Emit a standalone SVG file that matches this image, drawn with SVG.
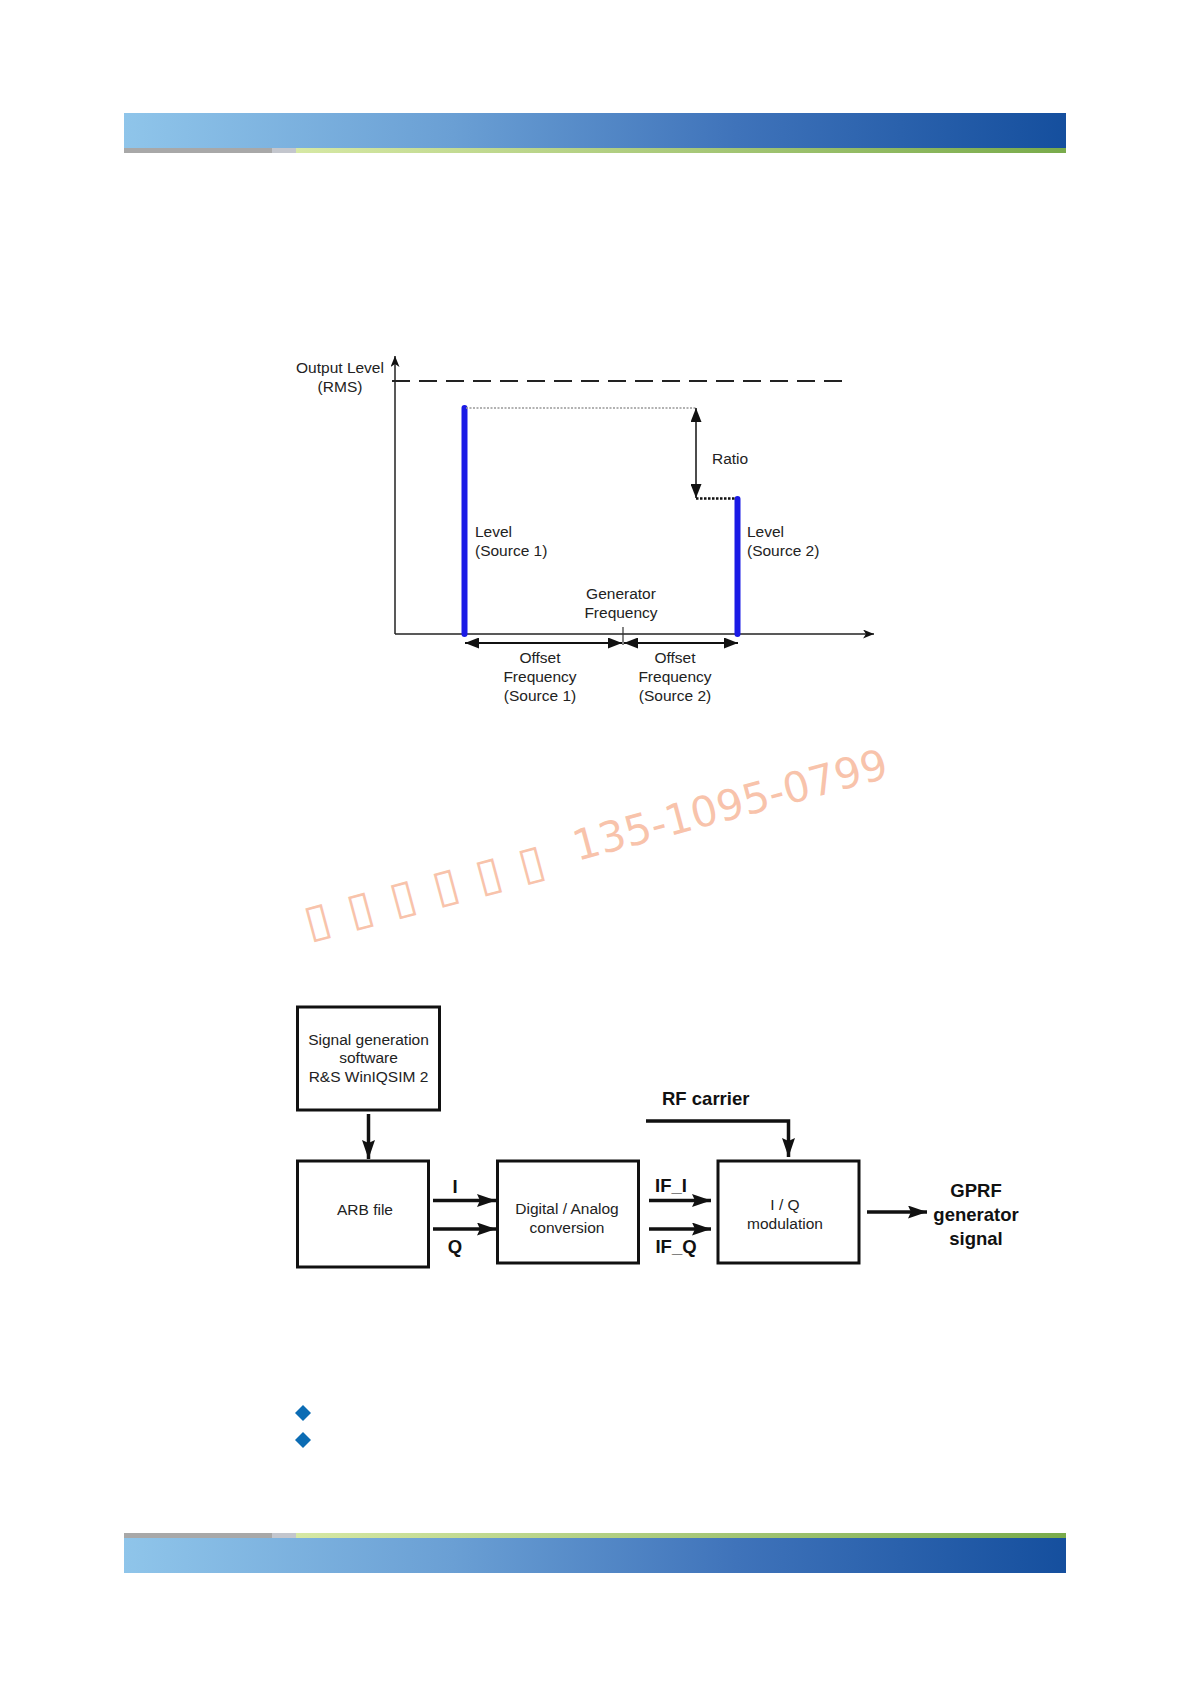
<svg xmlns="http://www.w3.org/2000/svg" width="1190" height="1684" viewBox="0 0 1190 1684">
<defs>
  <linearGradient id="blueGrad" x1="0" y1="0" x2="1" y2="0">
    <stop offset="0" stop-color="#8fc5ea"/>
    <stop offset="0.35" stop-color="#6a9fd4"/>
    <stop offset="0.65" stop-color="#3f73ba"/>
    <stop offset="1" stop-color="#154f9e"/>
  </linearGradient>
  <linearGradient id="greenGrad" x1="0" y1="0" x2="1" y2="0">
    <stop offset="0" stop-color="#d6e8a4"/>
    <stop offset="0.5" stop-color="#a9c97a"/>
    <stop offset="1" stop-color="#79ab4b"/>
  </linearGradient>
  <marker id="axisHead" markerUnits="userSpaceOnUse" markerWidth="12" markerHeight="9" refX="11" refY="4.5" orient="auto">
    <path d="M0,0 L11,4.5 L0,9 L3,4.5 z" fill="#111"/>
  </marker>
  <marker id="dimHead" markerUnits="userSpaceOnUse" markerWidth="15" markerHeight="11" refX="14" refY="5.5" orient="auto-start-reverse">
    <path d="M0,0 L14,5.5 L0,11 z" fill="#111"/>
  </marker>
  <marker id="blkHead" markerUnits="userSpaceOnUse" markerWidth="20" markerHeight="13" refX="19" refY="6.5" orient="auto">
    <path d="M0,0 L19,6.5 L0,13 L3,6.5 z" fill="#111"/>
  </marker>
  <style>
    .lbl { font-family: "Liberation Sans", Arial, sans-serif; font-size: 15.5px; fill: #222; }
    .mid { text-anchor: middle; }
    .bold { font-family: "Liberation Sans", Arial, sans-serif; font-size: 18.5px; font-weight: bold; fill: #111; }
    .box { fill: #fff; stroke: #111; stroke-width: 3; }
    .axis { stroke: #222; stroke-width: 1.5; fill: none; }
    .blue { stroke: #1a1ae6; stroke-width: 6; stroke-linecap: round; }
    .conn { stroke: #111; stroke-width: 3.5; fill: none; }
    .wm { font-family: "DejaVu Sans", sans-serif; fill: #f7b99c; fill-opacity: 0.85; }
  </style>
</defs>
<rect width="1190" height="1684" fill="#fff"/>

<!-- header band -->
<g id="header">
  <rect x="124" y="113" width="942" height="35" fill="url(#blueGrad)"/>
  <rect x="124" y="148" width="148" height="5" fill="#a8a8a8"/>
  <rect x="272" y="148" width="24" height="5" fill="#c3c6cd"/>
  <rect x="296" y="148" width="770" height="5" fill="url(#greenGrad)"/>
</g>

<!-- footer band -->
<g id="footer">
  <rect x="124" y="1533" width="148" height="5" fill="#a8a8a8"/>
  <rect x="272" y="1533" width="24" height="5" fill="#c3c6cd"/>
  <rect x="296" y="1533" width="770" height="5" fill="url(#greenGrad)"/>
  <rect x="124" y="1538" width="942" height="35" fill="url(#blueGrad)"/>
</g>

<!-- spectrum chart -->
<g id="chart">
  <g id="axes">
    <line class="axis" x1="395" y1="634" x2="395" y2="356" marker-end="url(#axisHead)"/>
    <line class="axis" x1="395" y1="634" x2="874" y2="634" marker-end="url(#axisHead)"/>
    <line x1="392" y1="381" x2="843" y2="381" stroke="#222" stroke-width="2" stroke-dasharray="18,9"/>
  </g>
  <g id="source1">
    <line class="blue" x1="464.5" y1="408" x2="464.5" y2="634"/>
    <line x1="466" y1="408" x2="697" y2="408" stroke="#999" stroke-width="1.5" stroke-dasharray="2,1.5"/>
  </g>
  <g id="source2">
    <line class="blue" x1="737.5" y1="499" x2="737.5" y2="634"/>
    <line x1="696" y1="498.5" x2="736" y2="498.5" stroke="#111" stroke-width="2.5" stroke-dasharray="2.5,1.5"/>
  </g>
  <g id="ratio">
    <line x1="696" y1="408" x2="696" y2="498" stroke="#111" stroke-width="1.5" marker-start="url(#dimHead)" marker-end="url(#dimHead)"/>
    <text class="lbl" x="712" y="464">Ratio</text>
  </g>
  <g id="offsets">
    <line x1="623" y1="627" x2="623" y2="645" stroke="#333" stroke-width="1.2"/>
    <line x1="465" y1="643" x2="622" y2="643" stroke="#111" stroke-width="2" marker-start="url(#dimHead)" marker-end="url(#dimHead)"/>
    <line x1="624" y1="643" x2="738" y2="643" stroke="#111" stroke-width="2" marker-start="url(#dimHead)" marker-end="url(#dimHead)"/>
  </g>
  <g id="chart-labels">
    <text class="lbl mid" x="340" y="373">Output Level</text>
    <text class="lbl mid" x="340" y="392">(RMS)</text>
    <text class="lbl" x="475" y="537">Level</text>
    <text class="lbl" x="475" y="556">(Source 1)</text>
    <text class="lbl" x="747" y="537">Level</text>
    <text class="lbl" x="747" y="556">(Source 2)</text>
    <text class="lbl mid" x="621" y="599">Generator</text>
    <text class="lbl mid" x="621" y="618">Frequency</text>
    <text class="lbl mid" x="540" y="663">Offset</text>
    <text class="lbl mid" x="540" y="682">Frequency</text>
    <text class="lbl mid" x="540" y="701">(Source 1)</text>
    <text class="lbl mid" x="675" y="663">Offset</text>
    <text class="lbl mid" x="675" y="682">Frequency</text>
    <text class="lbl mid" x="675" y="701">(Source 2)</text>
  </g>
</g>

<!-- watermark -->
<g id="watermark" transform="translate(309,938) rotate(-15)">
  <text class="wm" font-size="46" x="0 44.3 88.6 132.9 177.2 221.5" y="0">▯▯▯▯▯▯</text>
  <text class="wm" font-size="42" x="279" y="-5">135-1095-0799</text>
</g>

<!-- block diagram -->
<g id="node-software">
  <rect class="box" x="297.5" y="1007" width="142" height="103"/>
  <text class="lbl mid" x="368.5" y="1045">Signal generation</text>
  <text class="lbl mid" x="368.5" y="1063">software</text>
  <text class="lbl mid" x="368.5" y="1082">R&amp;S WinIQSIM 2</text>
</g>
<g id="node-arb">
  <rect class="box" x="297.5" y="1161" width="131" height="106"/>
  <text class="lbl mid" x="365" y="1215">ARB file</text>
</g>
<g id="node-dac">
  <rect class="box" x="497.5" y="1161" width="141" height="102"/>
  <text class="lbl mid" x="567" y="1214">Digital / Analog</text>
  <text class="lbl mid" x="567" y="1233">conversion</text>
</g>
<g id="node-iq">
  <rect class="box" x="718" y="1161" width="141" height="102"/>
  <text class="lbl mid" x="785" y="1210">I / Q</text>
  <text class="lbl mid" x="785" y="1229">modulation</text>
</g>
<g id="connectors">
  <line class="conn" stroke-width="3" x1="368.5" y1="1114" x2="368.5" y2="1159" marker-end="url(#blkHead)"/>
  <line class="conn" x1="433" y1="1200.5" x2="496" y2="1200.5" marker-end="url(#blkHead)"/>
  <line class="conn" x1="433" y1="1229" x2="496" y2="1229" marker-end="url(#blkHead)"/>
  <line class="conn" x1="649" y1="1200.5" x2="711" y2="1200.5" marker-end="url(#blkHead)"/>
  <line class="conn" x1="649" y1="1229" x2="711" y2="1229" marker-end="url(#blkHead)"/>
  <polyline class="conn" stroke-width="3" points="646,1121 788.5,1121 788.5,1157" marker-end="url(#blkHead)"/>
  <line class="conn" x1="867" y1="1212" x2="927" y2="1212" marker-end="url(#blkHead)"/>
</g>
<g id="connector-labels">
  <text class="bold mid" x="455" y="1193">I</text>
  <text class="bold mid" x="455" y="1253">Q</text>
  <text class="bold mid" x="671" y="1192">IF_I</text>
  <text class="bold mid" x="676" y="1253">IF_Q</text>
  <text class="bold" x="662" y="1105">RF carrier</text>
  <text class="bold mid" x="976" y="1197">GPRF</text>
  <text class="bold mid" x="976" y="1221">generator</text>
  <text class="bold mid" x="976" y="1245">signal</text>
</g>

<!-- bullets -->
<g id="bullets" fill="#0b6cb4">
  <polygon points="303,1405 311,1413 303,1421 295,1413"/>
  <polygon points="303,1432 311,1440 303,1448 295,1440"/>
</g>
</svg>
